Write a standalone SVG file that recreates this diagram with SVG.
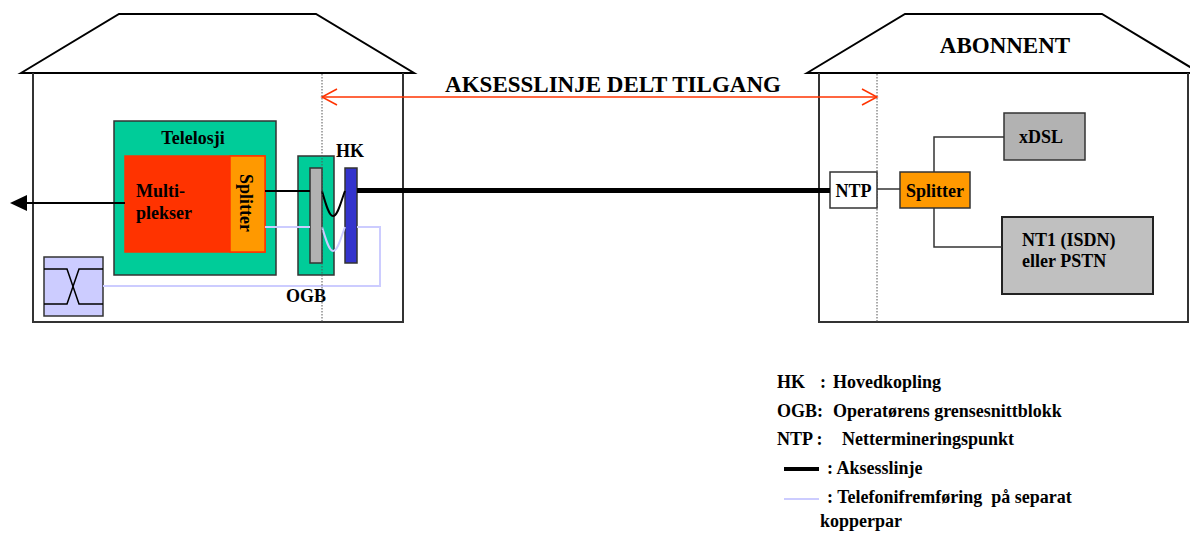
<svg xmlns="http://www.w3.org/2000/svg" width="1190" height="534" viewBox="0 0 1190 534">
<defs>
<style>
text{font-family:"Liberation Serif","Times New Roman",serif;font-weight:bold;fill:#000}
.t18{font-size:18px}
.t23{font-size:23px}
.house{fill:#fff;stroke:#000;stroke-width:2}
.wall{fill:none;stroke:#333;stroke-width:2}
.dot{stroke:#555;stroke-width:1;stroke-dasharray:1.5 1.5;fill:none}
.box{stroke:#333;stroke-width:1.5}
.wire{fill:none;stroke:#000;stroke-width:2}
.lav{fill:none;stroke:#CCCCFF;stroke-width:2}
.conn{fill:none;stroke:#333;stroke-width:1.5}
.red{fill:none;stroke:#FF3300;stroke-width:1.5}
</style>
</defs>
<rect width="1190" height="534" fill="#fff"/>

<g id="house-left">
<polygon class="house" points="21,73 119,14 316,14 414,73"/>
<polyline class="wall" points="33,73 33,322 403,322 403,73"/>
</g>

<g id="house-right">
<polygon class="house" points="807,73 905,14 1102,14 1200,73"/>
<polyline class="wall" points="819,73 819,322 1188,322 1188,73"/>
<line class="dot" x1="877" y1="74" x2="877" y2="322"/>
<text class="t23" x="1005" y="53" text-anchor="middle">ABONNENT</text>
</g>

<g id="title">
<text class="t23" x="613" y="92" text-anchor="middle">AKSESSLINJE DELT TILGANG</text>
</g>

<g id="telelosji">
<rect class="box" x="114" y="121" width="162" height="154" fill="#00CC99"/>
<text class="t18" x="193" y="144" text-anchor="middle">Telelosji</text>
</g>

<g id="multiplekser">
<rect x="125" y="156" width="140" height="96" fill="#FF3300" stroke="#FF3300" stroke-width="1.5"/>
<text class="t18" x="136" y="197">Multi-</text>
<text class="t18" x="136" y="219">plekser</text>
</g>

<g id="splitter-left">
<rect x="230" y="156" width="35" height="96" fill="#FF9900" stroke="#FF3300" stroke-width="1.5"/>
<text class="t18" transform="translate(240,203) rotate(90)" text-anchor="middle">Splitter</text>
</g>

<g id="ogb">
<rect class="box" x="298" y="156" width="36" height="119" fill="#00CC99"/>
<rect class="box" x="310" y="168" width="12" height="95" fill="#B2B2B2"/>
<text class="t18" x="306" y="302" text-anchor="middle">OGB</text>
</g>

<g id="hk">
<rect class="box" x="345" y="168" width="12" height="95" fill="#3333CC"/>
<text class="t18" x="336" y="157">HK</text>
</g>

<g id="crossover">
<rect class="box" x="44" y="257" width="59" height="59" fill="#CCCCFF"/>
<polyline fill="none" stroke="#000" stroke-width="1.5" points="44,269 67,269 79,304 103,304"/>
<polyline fill="none" stroke="#000" stroke-width="1.5" points="44,304 67,304 79,269 103,269"/>
</g>

<g id="ntp">
<rect class="box" x="830" y="172" width="47" height="36" fill="#fff"/>
<text class="t18" x="853.5" y="197" text-anchor="middle">NTP</text>
</g>

<g id="splitter-right">
<rect class="box" x="900" y="172" width="70" height="36" fill="#FF9900"/>
<text class="t18" x="935" y="197" text-anchor="middle">Splitter</text>
</g>

<g id="xdsl">
<rect class="box" x="1004" y="113" width="81" height="47" fill="#B2B2B2"/>
<text class="t18" x="1019" y="143">xDSL</text>
</g>

<g id="nt1">
<rect x="1002" y="217" width="151" height="77" fill="#C0C0C0" stroke="#222" stroke-width="2"/>
<text class="t18" x="1022" y="246">NT1 (ISDN)</text>
<text class="t18" x="1022" y="267">eller PSTN</text>
</g>

<g id="connectors">
<line class="red" x1="322" y1="97" x2="877" y2="97"/>
<polyline class="red" points="337,89 322,97 337,105"/>
<polyline class="red" points="862,89 877,97 862,105"/>
<line class="wire" x1="125" y1="203" x2="24" y2="203"/>
<polygon points="10,203 27,195 27,211" fill="#000"/>
<line class="wire" x1="265" y1="191" x2="310" y2="191"/>
<path class="wire" d="M322,191 C326,205 329,216 333,216 C338,216 341,201 345,191"/>
<path class="lav" d="M265,227 L310,227"/>
<path class="lav" d="M322,227 C326,240 329,251 333,251 C338,251 341,237 345,227"/>
<path class="lav" d="M357,227 L380,227 L380,286 L103,286"/>
<line x1="357" y1="190.5" x2="830" y2="190.5" stroke="#000" stroke-width="5"/>
<line class="conn" x1="877" y1="189" x2="900" y2="189"/>
<polyline class="conn" points="934,172 934,137 1004,137"/>
<polyline class="conn" points="934,208 934,247 1002,247"/>
<line class="dot" x1="322" y1="74" x2="322" y2="322"/>
</g>

<g id="legend">
<text class="t18" x="777" y="388">HK</text>
<text class="t18" x="820" y="388">:</text>
<text class="t18" x="833" y="388">Hovedkopling</text>
<text class="t18" x="777" y="417">OGB:</text>
<text class="t18" x="833" y="417">Operatørens grensesnittblokk</text>
<text class="t18" x="777" y="445">NTP :</text>
<text class="t18" x="842" y="445">Nettermineringspunkt</text>
<line x1="784" y1="469" x2="819" y2="469" stroke="#000" stroke-width="4"/>
<text class="t18" x="827" y="474">: Aksesslinje</text>
<line x1="784" y1="499" x2="819" y2="499" stroke="#CCCCFF" stroke-width="2"/>
<text class="t18" x="827" y="503" xml:space="preserve">: Telefonifremføring  på separat</text>
<text class="t18" x="820" y="527">kopperpar</text>
</g>
</svg>
